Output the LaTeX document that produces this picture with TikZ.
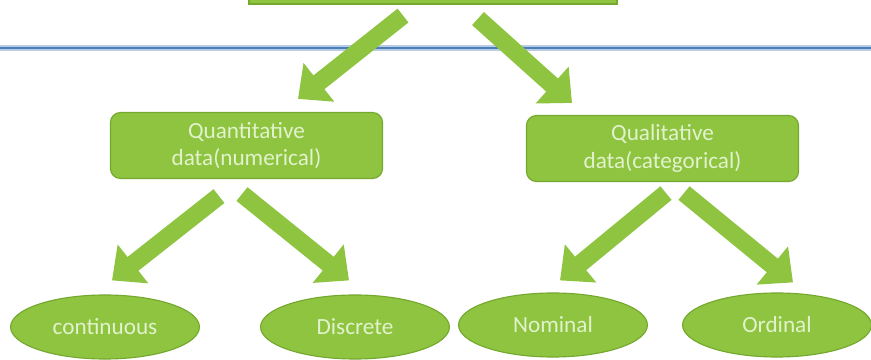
\documentclass[tikz,border=0pt]{standalone}
\usepackage{fontspec}
\setmainfont{Carlito}
\usetikzlibrary{shapes}
\usetikzlibrary{arrows.meta}
\usetikzlibrary{calc}
\definecolor{leaf}{RGB}{142,196,64}
\definecolor{leafdark}{RGB}{116,168,46}
\definecolor{leaftext}{RGB}{226,242,204}
\definecolor{rulebl}{RGB}{74,126,187}
\definecolor{rulelt}{RGB}{184,204,228}
\tikzset{
    topbox/.style = {rectangle, thick, draw=leafdark, fill=leaf, minimum width=9.2cm, minimum height=1cm},
    catbox/.style = {rectangle, rounded corners=0.25cm, thick, draw=leafdark, fill=leaf, align=center, text=leaftext, font=\fontsize{16.5}{19.5}\selectfont, minimum width=6.8cm, minimum height=1.65cm, inner sep=0pt},
    kindnode/.style = {ellipse, thick, draw=leafdark, fill=leaf, text=leaftext, font=\fontsize{16.5}{19.5}\selectfont, minimum width=4.72cm, minimum height=1.6cm, inner sep=0pt},
    fatarrow/.style = {line width=12.5pt, draw=leaf, -{Triangle[width=34pt,length=19pt]}},
    hline/.style = {line width=2pt, draw=rulebl, preaction={draw=rulelt, line width=4pt}}
}
\begin{document}
\begin{tikzpicture}[x=0.025cm,y=-0.025cm]
\useasboundingbox (0,0) rectangle (871,360);
\clip (0,0) rectangle (871,360);
\fill[white] (0,0) rectangle (871,360);
%
\draw[hline] (0,48) -- (871,48);
%
\node[topbox] at (433,-16) (top) {};
\node[catbox] at (246.5,145.5) (quant) {Quantitative\\data(numerical)};
\node[catbox] at (662.5,148.5) (qual) {Qualitative\\data(categorical)};
\node[kindnode] at (105,327) (cont) {continuous};
\node[kindnode] at (355,327) (disc) {Discrete};
\node[kindnode] at (553,325) (nom) {Nominal};
\node[kindnode] at (777,325) (ord) {Ordinal};
%
\draw[fatarrow] ($(top.south)+(-30,11)$) -- ($(quant.north)+(51.5,-13)$);
\draw[fatarrow] ($(top.south)+(45,14)$) -- ($(qual.north)+(-90.5,-12)$);
\draw[fatarrow] ($(quant.south)+(-27.5,17)$) -- ($(cont.north)+(7,-14)$);
\draw[fatarrow] ($(quant.south)+(-4.5,15)$) -- ($(disc.north)+(-6,-14)$);
\draw[fatarrow] ($(qual.south)+(3.5,11)$) -- ($(nom.north)+(7,-12)$);
\draw[fatarrow] ($(qual.south)+(21.5,11)$) -- ($(ord.north)+(16,-10)$);
\end{tikzpicture}
\end{document}
